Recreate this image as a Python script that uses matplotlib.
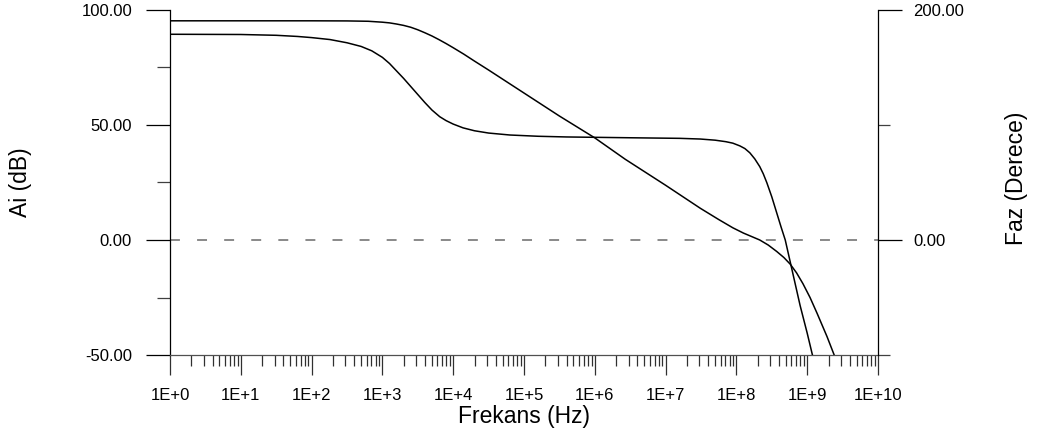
import matplotlib
matplotlib.use("Agg")
import matplotlib.pyplot as plt
import matplotlib.ticker as ticker
import numpy as np

plt.rcParams['font.family'] = ['Liberation Sans', 'DejaVu Sans']

# kazanc egrisi: frekans (log10 Hz) ve Ai (dB)
kazanc_logf = [0.0, 1.0, 2.0, 2.5, 2.8, 3.0, 3.1, 3.2, 3.3, 3.4, 3.5, 3.6, 3.7,
               3.8, 3.9, 4.0, 4.15, 4.3, 4.5, 4.75, 5.0, 5.5, 6.0, 6.43, 7.0,
               7.49, 7.75, 7.95, 8.1, 8.2, 8.33, 8.45, 8.57, 8.67, 8.76, 8.85,
               8.94, 9.04, 9.14, 9.28, 9.39, 9.45]
kazanc_db = [95.3, 95.3, 95.3, 95.25, 95.1, 94.7, 94.4, 93.9, 93.3, 92.5, 91.4,
             90.1, 88.7, 87.1, 85.4, 83.6, 80.8, 77.8, 73.9, 68.9, 63.9, 53.9,
             44.4, 35.1, 23.8, 13.8, 8.9, 5.3, 3.0, 1.7, 0.0, -2.2, -5.0, -7.6,
             -10.5, -14.3, -19.0, -25.0, -31.9, -42.0, -50.7, -56.0]

# faz egrisi: frekans (log10 Hz) ve faz (derece)
faz_logf = [0.0, 1.0, 1.5, 1.8, 2.0, 2.26, 2.5, 2.7, 2.85, 3.0, 3.1, 3.2, 3.3,
            3.4, 3.5, 3.6, 3.7, 3.81, 3.9, 4.0, 4.14, 4.3, 4.5, 4.8, 5.2, 5.6,
            6.5, 7.2, 7.49, 7.7, 7.85, 7.95, 8.05, 8.12, 8.19, 8.26, 8.33, 8.38,
            8.43, 8.5, 8.57, 8.63, 8.69, 8.76, 8.83, 8.9, 9.0, 9.07, 9.15]
faz_derece = [178.9, 178.7, 178.0, 177.0, 176.0, 174.3, 171.5, 168.3, 164.5,
              158.8, 153.5, 147.0, 140.5, 133.5, 126.5, 119.5, 113.0, 107.2,
              103.8, 100.8, 97.5, 95.0, 93.0, 91.3, 90.2, 89.6, 88.9, 88.4, 87.8,
              86.8, 85.5, 84.2, 81.8, 79.5, 75.8, 70.5, 63.8, 57.5, 49.8, 37.5,
              23.5, 11.5, 0.0, -19.0, -38.0, -57.0, -81.0, -99.0, -118.0]

x_ustler = list(range(0, 11))
x_etiketler = ["1E+%d" % n for n in x_ustler]
sol_major = [-50, 0, 50, 100]
sol_minor = [-25, 25, 75]
sag_major = [0, 200]
sag_minor = [-100, 100]

W, H = 1041, 438
fig = plt.figure(figsize=(W / 100, H / 100), dpi=100)
ax = fig.add_axes([170 / W, 1 - 355 / H, (878 - 170) / W, (355 - 10) / H])
ax2 = ax.twinx()

ax.set_xscale('log')
ax.set_xlim(1, 1e10)
ax.set_ylim(-50, 100)
ax2.set_ylim(-100, 200)

ax.plot(np.power(10.0, kazanc_logf), kazanc_db, color='black', lw=1.1)
ax2.plot(np.power(10.0, faz_logf), faz_derece, color='black', lw=1.1)
ax.axhline(0, color='#808080', lw=1.3, dashes=(5.5, 9.5))

# x ekseni
ax.xaxis.set_major_locator(ticker.FixedLocator([10.0 ** n for n in x_ustler]))
ax.xaxis.set_major_formatter(ticker.FixedFormatter(x_etiketler))
ax.xaxis.set_minor_locator(ticker.LogLocator(base=10, subs=np.arange(2, 10), numticks=200))
ax.xaxis.set_minor_formatter(ticker.NullFormatter())
ax.tick_params(axis='x', which='major', direction='out', length=14.4, width=0.9,
               color='#303030', pad=9, labelsize=12)
ax.tick_params(axis='x', which='minor', direction='out', length=8, width=0.9,
               color='#303030')

# sol eksen
ax.yaxis.set_major_locator(ticker.FixedLocator(sol_major))
ax.yaxis.set_minor_locator(ticker.FixedLocator(sol_minor))
ax.yaxis.set_major_formatter(ticker.FormatStrFormatter('%.2f'))
ax.tick_params(axis='y', which='major', direction='out', length=17.3, width=0.9,
               color='black', pad=10, labelsize=12)
ax.tick_params(axis='y', which='minor', direction='out', length=9.4, width=0.9,
               color='#404040')

# sag eksen
ax2.yaxis.set_major_locator(ticker.FixedLocator(sag_major))
ax2.yaxis.set_minor_locator(ticker.FixedLocator(sag_minor))
ax2.yaxis.set_major_formatter(ticker.FormatStrFormatter('%.2f'))
ax2.tick_params(axis='y', which='major', direction='out', length=17.3, width=0.9,
                color='black', pad=8, labelsize=12)
ax2.tick_params(axis='y', which='minor', direction='out', length=8.6, width=0.9,
                color='#404040')

for a in (ax, ax2):
    a.spines['top'].set_visible(False)
    for s in a.spines.values():
        s.set_linewidth(0.9)
ax.spines['right'].set_visible(False)
ax2.spines['left'].set_visible(False)
ax2.spines['bottom'].set_visible(False)
ax.spines['bottom'].set_color('#505050')

ax.set_xlabel("Frekans (Hz)", fontsize=16.5)
ax.xaxis.set_label_coords(0.5, (355 - 417) / 345)
ax.xaxis.label.set_verticalalignment('center')

ax.set_ylabel("Ai (dB)", fontsize=16.5)
ax.yaxis.set_label_coords((20 - 170) / 708, (355 - 182) / 345)
ax.yaxis.label.set_verticalalignment('center')

ax2.set_ylabel("Faz (Derece)", fontsize=16.5)
ax2.yaxis.set_label_coords((1017 - 170) / 708, (355 - 178) / 345)
ax2.yaxis.label.set_verticalalignment('center')

fig.savefig("out.png", dpi=100)
